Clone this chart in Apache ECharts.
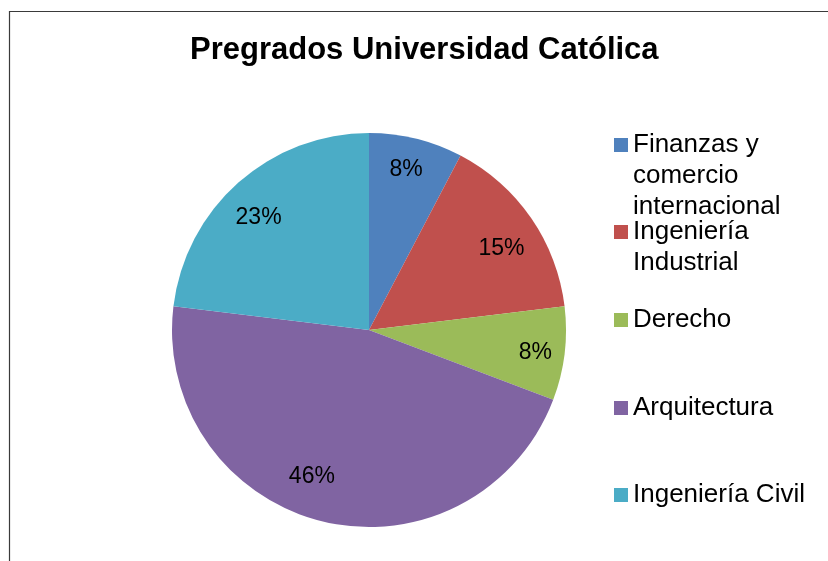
<!DOCTYPE html>
<html>
<head>
<meta charset="utf-8">
<script src="https://cdn.jsdelivr.net/npm/echarts@6/dist/echarts.min.js"></script>
<style>
  html, body { margin: 0; padding: 0; background: #fff; }
  #chart { width: 828px; height: 561px; }
</style>
</head>
<body>
<div id="chart"></div>
<script>
// datos del grafico
var categorias = ['Finanzas y comercio internacional', 'Ingeniería Industrial', 'Derecho', 'Arquitectura', 'Ingeniería Civil'];
var etiquetas = ['Finanzas y\ncomercio\ninternacional', 'Ingeniería\nIndustrial', 'Derecho', 'Arquitectura', 'Ingeniería Civil'];
var valores = [1, 2, 1, 6, 3];
var colores = ['#4F81BD', '#C0504D', '#9BBB59', '#8064A2', '#4BACC6'];
var centrosLeyenda = [145, 232, 320, 408, 495];
// ajuste fino de las etiquetas de porcentaje (como las coloca Excel)
var desplazamientos = [[-2, -2], [-2, 12], [4, 3], [-18, -12], [-2, 10]];

var chart = echarts.init(document.getElementById('chart'));
var font = '"Liberation Sans", Arial, sans-serif';
var lh = 31;

var datos = [];
for (var i = 0; i < categorias.length; i++) {
    datos.push({ name: categorias[i], value: valores[i], itemStyle: { color: colores[i] } });
}

// una leyenda por elemento; lineas vacias arriba para que el icono quede en la primera linea
var leyendas = [];
for (var j = 0; j < categorias.length; j++) {
    var n = etiquetas[j].split('\n').length;
    var relleno = new Array(n).join('\n');
    leyendas.push({
        orient: 'vertical',
        left: 614,
        top: centrosLeyenda[j] - (2 * n - 1) * lh / 2,
        padding: 0,
        icon: 'rect',
        itemWidth: 14,
        itemHeight: 14,
        selectedMode: false,
        data: [categorias[j]],
        formatter: (function(txt) { return function() { return txt; }; })(relleno + etiquetas[j]),
        textStyle: {
            fontFamily: font,
            fontSize: 26,
            color: '#000',
            lineHeight: lh
        }
    });
}

var option = {
    backgroundColor: '#fff',
    animation: false,
    title: {
        text: 'Pregrados Universidad Católica',
        left: 190,
        top: 35,
        padding: 0,
        textStyle: { fontFamily: font, fontSize: 31, fontWeight: 'bold', color: '#000' }
    },
    legend: leyendas,
    graphic: [{
        type: 'rect',
        silent: true,
        shape: { x: 9.5, y: 11.5, width: 900, height: 700 },
        style: { fill: 'none', stroke: '#3a3a3a', lineWidth: 1.2 }
    }],
    series: [{
        type: 'pie',
        center: [369, 330],
        radius: [0, 197],
        startAngle: 90,
        clockwise: true,
        label: { show: false },
        labelLine: { show: false },
        itemStyle: { borderWidth: 0 },
        emphasis: { disabled: true },
        data: datos
    }, {
        // capa transparente solo para ubicar las etiquetas de porcentaje
        type: 'pie',
        center: [369, 330],
        radius: [124, 197],
        startAngle: 90,
        clockwise: true,
        silent: true,
        percentPrecision: 0,
        itemStyle: { color: 'rgba(0,0,0,0)', borderWidth: 0 },
        label: {
            show: true,
            position: 'inside',
            formatter: '{d}%',
            fontFamily: font,
            fontSize: 23,
            color: '#000'
        },
        labelLine: { show: false },
        emphasis: { disabled: true },
        data: categorias.map(function(c, k) {
            return { name: c, value: valores[k], label: { offset: desplazamientos[k] } };
        })
    }]
};

chart.setOption(option);
</script>
</body>
</html>
